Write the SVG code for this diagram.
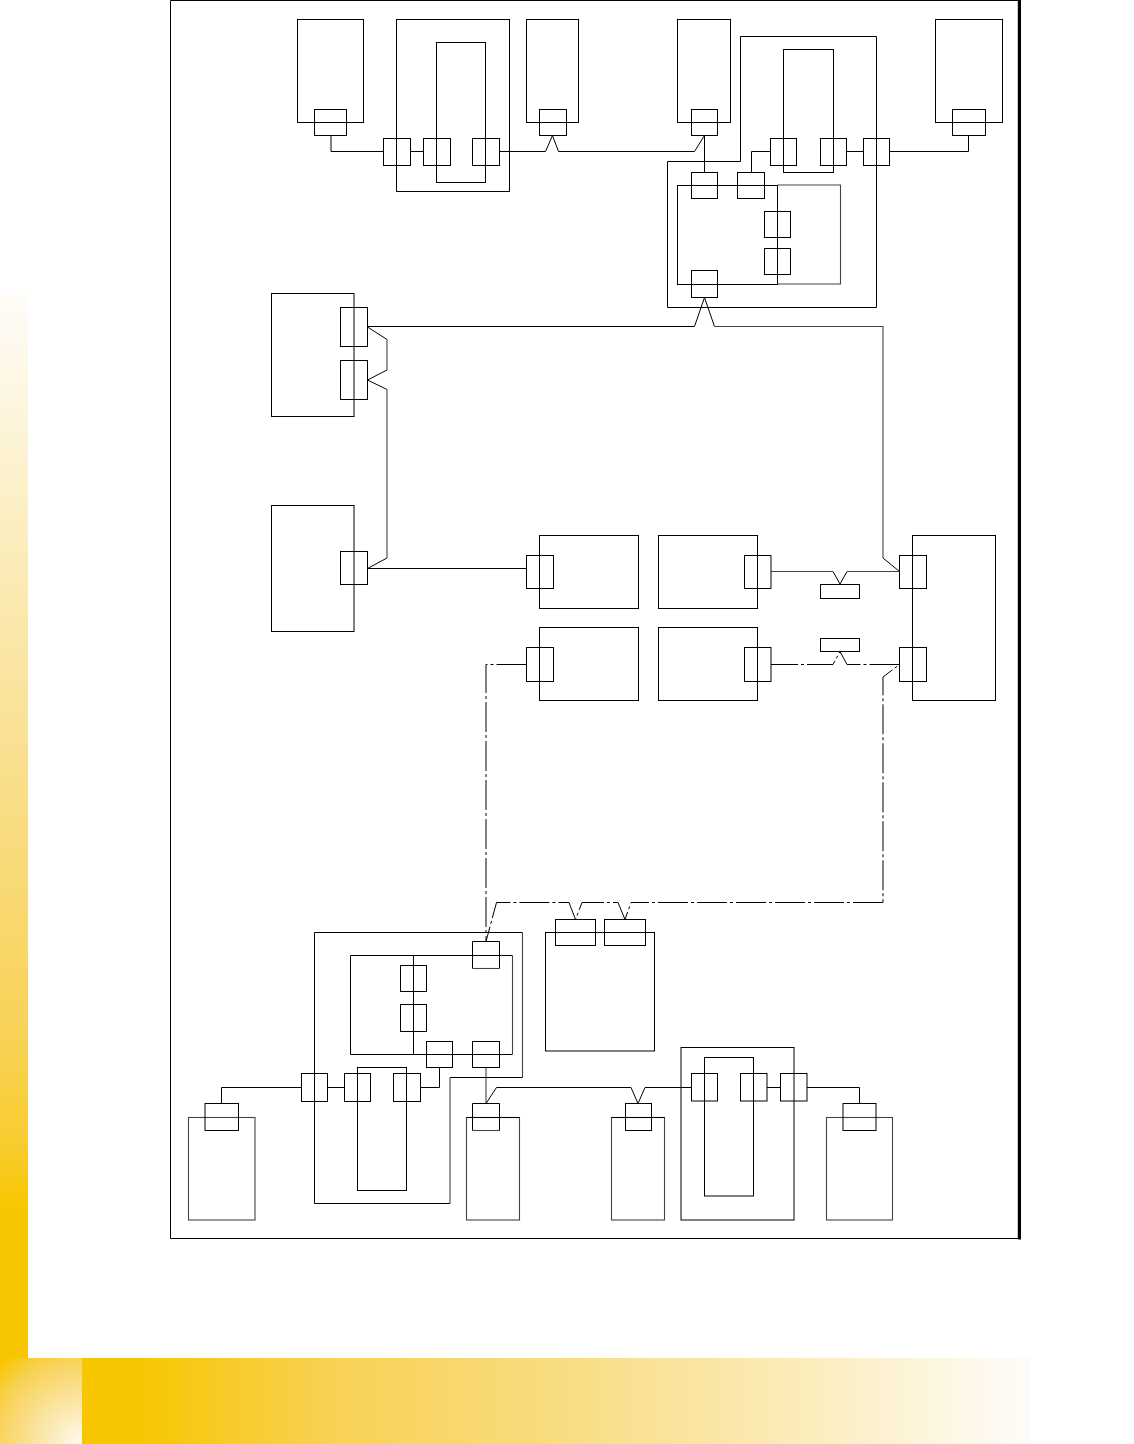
<svg xmlns="http://www.w3.org/2000/svg" width="1134" height="1444" viewBox="0 0 1134 1444">
<style>
rect,path,polyline{fill:none;stroke:#000;stroke-width:1}
.g{stroke:#444;stroke-width:1.1}
.dd{stroke-dasharray:30 3 3 3}
.bg{stroke:none}
</style>
<defs>
<linearGradient id="gl" x1="0" y1="1358" x2="0" y2="295" gradientUnits="userSpaceOnUse"><stop offset="0" stop-color="#f8c600"/><stop offset=".14" stop-color="#f8c600"/><stop offset=".2" stop-color="#f8cc2e"/><stop offset=".3" stop-color="#f8d256"/><stop offset=".46" stop-color="#f9da78"/><stop offset=".64" stop-color="#fae4a0"/><stop offset=".8" stop-color="#fcefc4"/><stop offset=".9" stop-color="#fdf6e0"/><stop offset="1" stop-color="#fffbf8"/></linearGradient>
<linearGradient id="gb" x1="82" y1="0" x2="1030" y2="0" gradientUnits="userSpaceOnUse"><stop offset="0" stop-color="#f8c600"/><stop offset=".06" stop-color="#f8c600"/><stop offset=".167" stop-color="#f8cc2e"/><stop offset=".27" stop-color="#f8d256"/><stop offset=".46" stop-color="#f9da78"/><stop offset=".64" stop-color="#fae4a0"/><stop offset=".8" stop-color="#fcefc4"/><stop offset=".9" stop-color="#fdf6e0"/><stop offset="1" stop-color="#fffbf8"/></linearGradient>
<radialGradient id="gc" cx="82" cy="1444" r="115" gradientUnits="userSpaceOnUse"><stop offset="0" stop-color="#fffbf0"/><stop offset=".4" stop-color="#fae4a0"/><stop offset=".75" stop-color="#f8d256"/><stop offset="1" stop-color="#f8c600"/></radialGradient>
</defs>
<rect width="1134" height="1444" class="bg" style="fill:#fff"/>
<g id="background">
<rect class="bg" x="0" y="295" width="28" height="1063" style="fill:url(#gl)"/>
<rect class="bg" x="82" y="1358" width="948" height="86" style="fill:url(#gb)"/>
<rect class="bg" x="0" y="1358" width="82" height="86" style="fill:url(#gc)"/>
</g>
<g id="frame"><path d="M170.500 1238.500V0.500H1019"/><path d="M170.500 1238.500H1019" style="stroke-width:1.100"/><path d="M1019.400 0V1239.500" style="stroke-width:3.200"/></g>
<g id="connectors">
<path d="M331 135.500V151.500H383.500"/>
<path d="M410 151.500H423.500"/>
<path d="M499.500 151.500H545.500L552.500 135.500L558.500 151.500H694.500L704.500 135.500"/>
<path d="M704.500 135.500V172.500"/>
<path d="M751.500 172.500V151.500H770.500"/>
<path d="M846.500 151.500H863.500"/>
<path d="M889.500 151.500H968.500V135.500"/>
<path d="M367.500 326.500H694.500L704.500 297.500L714.500 326.500"/>
<path class="g" d="M714.500 326.500H883V558"/>
<path d="M883 558L899.500 571.500"/>
<path d="M367.500 327L387 339.500"/>
<path class="g" d="M387 339.500V370"/>
<path d="M387 370L367.500 380L387 389.500"/>
<path class="g" d="M387 389.500V558"/>
<path d="M387 558L367.500 568.500"/>
<path d="M367.500 568.500H526.500"/>
<path class="g" d="M771 571.500H833"/>
<path d="M833 571.500L840 584L847 571.500"/>
<path class="g" d="M847 571.500H899.500"/>
<path class="dd" d="M771 664.500H833L840 651.500L847 664.500H899.500L883 677V902.500" style="stroke-dashoffset:3"/>
<path class="dd" d="M883 902.500H640" />
<path class="dd" d="M640 902.500H631L625 919.500L618 902.500" style="stroke-dashoffset:20"/>
<path class="dd" d="M618 902.500H582L575.500 919.500L569 902.500H496.500L486 941.500" style="stroke-dashoffset:25"/>
<path class="dd" d="M526.500 664.500H486V941.500"/>
<path d="M221.500 1104V1087.500H301.500"/>
<path d="M327.500 1087.500H344.500"/>
<path d="M420.500 1087.500H439.500V1067.500"/>
<path class="g" d="M486 1067.500V1103.500"/>
<path d="M486 1103.500L496.500 1087.500H631L638 1103.500L645 1087.500H691.500"/>
<path d="M767 1087.500H780.500"/>
<path d="M807 1087.500H859.500V1103.500"/>
</g>
<g id="n1"><rect x="297.500" y="19.500" width="66" height="103"/><rect x="314.500" y="109.500" width="32" height="26"/></g>
<g id="n2"><rect x="396.500" y="19.500" width="113" height="172"/><rect x="436.500" y="42.500" width="49" height="140"/><rect x="383.500" y="138.500" width="27" height="27"/><rect x="423.500" y="138.500" width="27" height="27"/><rect x="472.500" y="138.500" width="27" height="27"/></g>
<g id="n3"><rect x="526.500" y="19.500" width="52" height="103"/><rect x="539.500" y="109.500" width="27" height="26"/></g>
<g id="n4"><rect x="677.500" y="19.500" width="53" height="103"/><rect x="691.500" y="109.500" width="26" height="26"/></g>
<g id="n5"><path d="M667.500 161.500H740.500V36.500H876.500V307.500H667.500Z"/><rect x="783.500" y="49.500" width="50" height="123"/><rect x="770.500" y="138.500" width="26" height="27"/><rect x="820.500" y="138.500" width="26" height="27"/><rect x="863.500" y="138.500" width="26" height="27"/><rect x="677.500" y="185.500" width="100" height="99"/><path class="g" d="M777.500 185H840.500V284H777.500"/><rect x="691.500" y="172.500" width="26" height="26"/><rect x="737.500" y="172.500" width="27" height="26"/><rect x="764.500" y="211.500" width="26" height="26"/><rect x="764.500" y="248.500" width="26" height="26"/><rect x="691.500" y="270.500" width="26" height="27"/></g>
<g id="n6"><rect x="935.500" y="19.500" width="67" height="103"/><rect x="952.500" y="109.500" width="33" height="26"/></g>
<g id="n7"><rect x="271.500" y="293.500" width="82.500" height="123"/><rect x="340.500" y="307.500" width="27" height="39"/><rect x="340.500" y="360.500" width="27" height="39"/></g>
<g id="n8"><rect x="271.500" y="505.500" width="82.500" height="126"/><rect x="340.500" y="551.500" width="27" height="33"/></g>
<g id="n9"><rect x="539.500" y="535.500" width="99" height="73"/><rect x="526.500" y="555.500" width="27" height="33"/></g>
<g id="n10"><rect x="658.500" y="535.500" width="99" height="73"/><rect x="744.500" y="555.500" width="26.500" height="33"/></g>
<g id="n11"><rect x="539.500" y="627.500" width="99" height="73"/><rect x="526.500" y="647.500" width="27" height="34"/></g>
<g id="n12"><rect x="658.500" y="627.500" width="99" height="73"/><rect x="744.500" y="647.500" width="26.500" height="34"/></g>
<g id="n13"><rect x="820.500" y="584.500" width="39" height="14"/></g>
<g id="n14"><rect x="820.500" y="638.500" width="39" height="13"/></g>
<g id="n15"><rect x="912.500" y="535.500" width="83" height="165"/><rect x="899.500" y="555.500" width="27" height="33"/><rect x="899.500" y="647.500" width="27" height="34"/></g>
<g id="n16"><path d="M450 1203.500H314.500V932.500H522.500"/><path class="g" d="M522.500 932.500V1077.500"/><path d="M522.500 1077.500H450"/><path class="g" d="M450 1077.500V1203.500"/><path d="M512.500 1054.500H350.500V955.500H512.500"/><path class="g" d="M512.500 955.500V1054.500"/><path d="M413.500 955.500V1054.500"/><path d="M472.500 968.500V941.500H499.500V968.500"/><path class="g" d="M472.500 968.500H499.500"/><rect x="400.500" y="965.500" width="26" height="26"/><rect x="400.500" y="1004.500" width="26" height="27"/><rect x="426.500" y="1041.500" width="26" height="26"/><rect x="472.500" y="1041.500" width="27" height="26"/><rect x="357.500" y="1067.500" width="49" height="123"/><rect x="301.500" y="1073.500" width="26" height="28"/><rect x="344.500" y="1073.500" width="26" height="28"/><rect x="393.500" y="1073.500" width="27" height="28"/></g>
<g id="n17"><rect x="545.500" y="932.500" width="109" height="118.500"/><rect x="555.500" y="919.500" width="40" height="26"/><rect x="604.500" y="919.500" width="41" height="26"/></g>
<g id="n18"><rect x="188.500" y="1117.500" width="66.500" height="102.500" class="g"/><rect x="205" y="1103.500" width="33.500" height="27"/></g>
<g id="n19"><rect x="466.500" y="1117.500" width="53" height="102.500" class="g"/><path d="M466.500 1117.500H519.500"/><path class="g" d="M472.500 1130.500H499.500"/><path d="M472.500 1130.500V1103.500H499.500V1130.500"/></g>
<g id="n20"><rect x="611.500" y="1117.500" width="53" height="102.500" class="g"/><path d="M611.500 1117.500H664.500"/><rect x="625.500" y="1103.500" width="26" height="27"/></g>
<g id="n21"><rect x="681" y="1047.500" width="113" height="172.500"/><rect x="704.500" y="1057.500" width="49" height="138.500"/><rect x="691.500" y="1073.500" width="26" height="27.500"/><rect x="740.500" y="1073.500" width="26.500" height="27.500"/><rect x="780.500" y="1073.500" width="26.500" height="27.500"/></g>
<g id="n22"><rect x="826.500" y="1117.500" width="66" height="102.500" class="g"/><rect x="843" y="1103.500" width="33" height="27"/></g>
</svg>
